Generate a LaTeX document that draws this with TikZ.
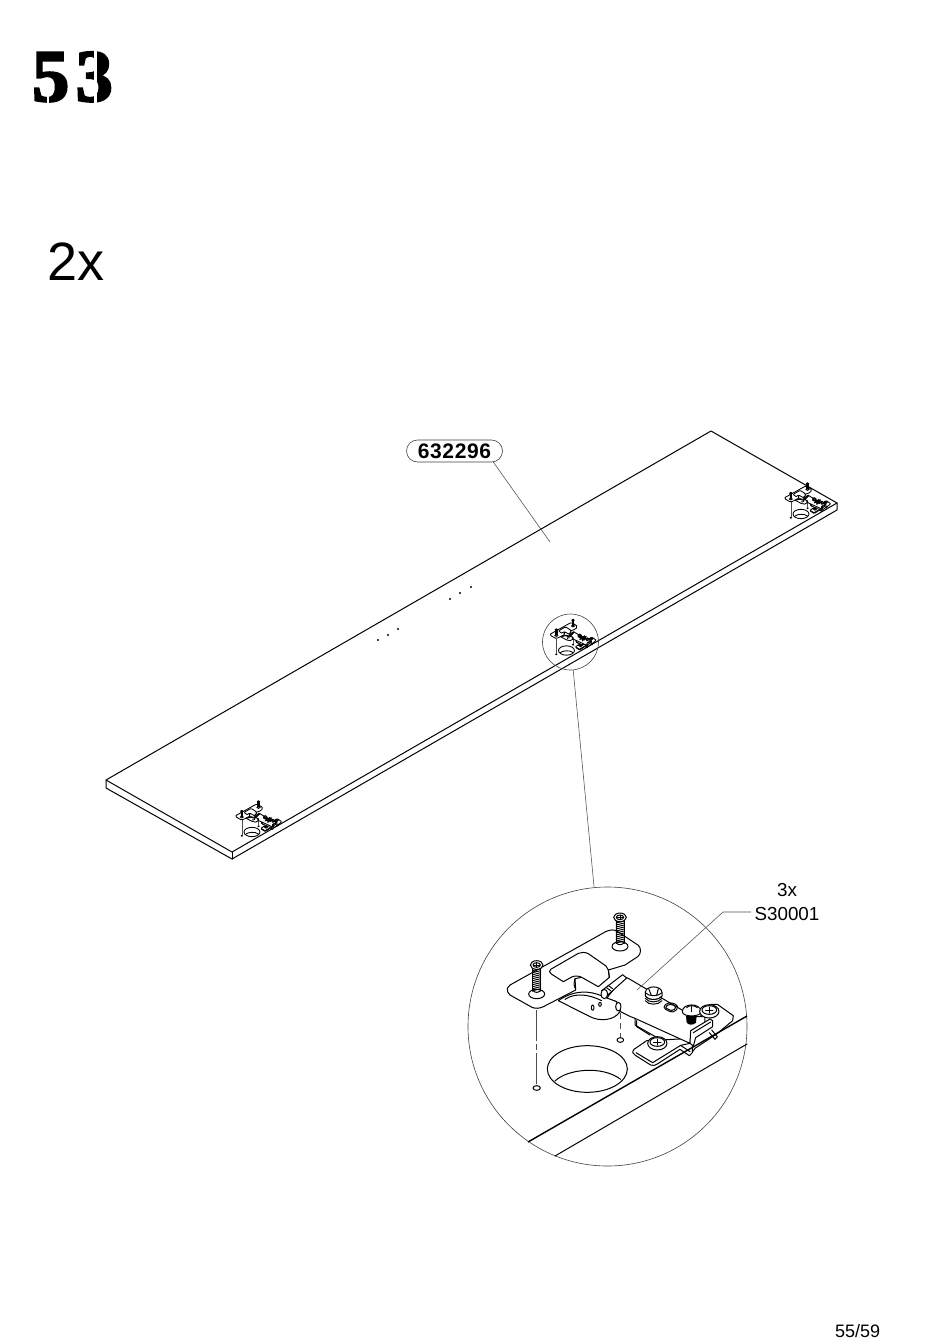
\documentclass[tikz,border=0pt]{standalone}
\usepackage{fontspec}
\setmainfont{Liberation Sans}
\newfontfamily\stepfont[LetterSpace=9,BoldFeatures={FakeBold=3}]{Liberation Serif}
\newfontfamily\partfont[LetterSpace=3]{Liberation Sans}
\usetikzlibrary{positioning,shapes.misc}

\tikzset{
  hline/.style={line width=1pt, line join=round, line cap=round},
  plate/.style={hline, fill=white},
  thinline/.style={line width=.55pt, draw=black!70},
  small/.style={scale=.2, hline/.style={line width=.85pt, line join=round}},
  lens/.style={circle, draw=black!75, line width=.6pt, inner sep=0},
  caption/.style={inner sep=0, anchor=base west},
  pill/.style={rounded rectangle, draw=black!75, line width=.6pt, minimum width=96pt, minimum height=22pt, inner sep=0},
  woodscrew/.pic={
    \foreach \yy in {8,14,...,74} \draw[hline] (-12,\yy+3) -- (12,\yy-3);
    \draw[hline] (-12,6) -- (-12,78); \draw[hline] (12,2) -- (12,78);
    \draw[plate] (0,0) ellipse [x radius=19, y radius=13];
    \draw[hline] (0,0) ellipse [x radius=11, y radius=7];
    \draw[hline] (-9,0) -- (9,0); \draw[hline] (0,-7) -- (0,7);
    \draw[hline] (0,87) ellipse [x radius=24, y radius=14];
    \draw[hline] (-12,76) .. controls (-6,84) and (6,84) .. (12,76);
  },
  panscrew/.pic={
    \draw[plate] (0,0) ellipse [x radius=29, y radius=20];
    \draw[hline] (0,-4) ellipse [x radius=22, y radius=13];
    \draw[hline] (-11,-4) -- (11,-4); \draw[hline] (0,-13) -- (0,5);
  },
  hingeset/.pic={
    \begin{scope}[x=.3333pt, y=-.3333pt, shift={(-442.5,-469.5)}]
      % hole and pilot holes
      \draw[hline] (382,597) ellipse [x radius=120, y radius=70];
      \draw[hline] (285,633) .. controls (320,598) and (425,585) .. (482,628);
      \draw[hline] (230,654) ellipse [x radius=11, y radius=7];
      \draw[hline] (481,510) ellipse [x radius=10, y radius=7];
      \draw[thinline, dash pattern=on 31pt off 3pt on 6pt off 3pt] (230,420) -- (230,645);
      \draw[thinline, dash pattern=on 6pt off 4pt] (481,430) -- (481,500);
      % right plate
      \draw[plate] (745,408) -- (755,403) -- (772,403) -- (820,437) -- (818,452) -- (770,492) -- (705,535) -- (690,555) -- (690,480) -- cycle;
      % lower tab
      \draw[plate] (560,512) -- (522,538) .. controls (516,546) and (518,552) .. (526,556) -- (572,585)
        .. controls (580,588) and (586,586) .. (592,582) -- (660,538) -- (688,557) -- (697,548) -- (697,505) -- cycle;
      \draw[hline] (528,548) -- (578,578) -- (662,526) -- (690,545);
      % arm
      \draw[plate] (490,320) -- (505,325) -- (700,440) -- (735,440) -- (735,470) -- (692,500) -- (690,520)
        -- (525,445) -- (512,440) -- (482,425) -- (470,395) -- (440,385) -- cycle;
      \draw[hline] (525,445) -- (525,465) -- (595,505);
      \draw[hline] (530,452) -- (530,470) -- (570,495);
      \draw[hline] (662,526) -- (690,520);
      % slot
      \draw[hline, rounded corners=4pt] (606,412) -- (628,395) -- (658,408) -- (640,430) -- cycle;
      \draw[hline, rounded corners=3pt] (613,412) -- (630,401) -- (651,410) -- (637,424) -- cycle;
      % body under top plate
      \draw[plate] (295,392) -- (390,440) .. controls (420,455) and (462,452) .. (480,425)
        -- (470,395) -- (430,380) .. controls (390,360) and (340,360) .. cycle;
      \draw[hline] (315,388) .. controls (345,368) and (385,372) .. (425,392);
      \draw[hline] (398,413) ellipse [x radius=4, y radius=8];
      \draw[hline] (420,403) ellipse [x radius=4, y radius=6];
      \draw[plate] (475,410) ellipse [x radius=8, y radius=13];
      % tongue
      \draw[plate] (425,362) -- (488,314) -- (500,324) -- (440,378) -- cycle;
      \draw[hline] (438,352) -- (452,362); \draw[hline] (444,346) -- (458,356);
      \draw[plate] (433,372) ellipse [x radius=10, y radius=14];
      % top plate
      \draw[plate] (142,355) -- (150,345) -- (435,186) .. controls (450,178) and (462,178) .. (472,184)
        -- (535,226) .. controls (544,234) and (544,252) .. (533,260) -- (495,285) -- (445,300)
        -- (448,322) -- (415,350) -- (365,322) -- (345,326) -- (347,360) -- (250,410)
        .. controls (238,416) and (226,416) .. (216,412) -- (150,375) .. controls (143,370) and (141,362) .. cycle;
      \draw[hline] (448,322) -- (445,300) -- (438,288) -- (385,251) .. controls (375,246) and (365,246) .. (355,250)
        -- (272,298) .. controls (266,302) and (268,308) .. (274,312) -- (310,335) -- (335,321) .. controls (340,318) and (355,316) .. (365,322);
      \draw[hline] (345,326) .. controls (342,340) and (340,348) .. (345,354);
      % screws
      \pic[transform shape] at (230,285) {woodscrew};
      \pic[transform shape] at (480,142) {woodscrew};
      % castle screw
      \foreach \yy in {378,385,392} \draw[hline] (556,\yy) .. controls (565,\yy+14) and (595,\yy+14) .. (606,\yy);
      \draw[plate] (556,368) -- (556,378) .. controls (565,392) and (595,392) .. (606,378) -- (606,368)
        .. controls (606,345) and (556,345) .. cycle;
      \draw[hline] (566,356) -- (574,376); \draw[hline] (595,356) -- (590,376);
      \draw[hline] (556,368) .. controls (565,380) and (595,380) .. (606,368);
      % middle screw
      \fill[black] (678,438) -- (710,438) -- (708,458) .. controls (700,466) and (686,466) .. (680,458) -- cycle;
      \draw[plate] (667,425) .. controls (667,398) and (723,398) .. (723,425) .. controls (723,442) and (667,442) .. cycle;
      \draw[hline] (680,413) .. controls (685,405) and (705,405) .. (712,413);
      \draw[hline] (695,408) -- (695,425);
      \pic[transform shape] at (592,520) {panscrew};
      \pic[transform shape] at (748,424) {panscrew};
      % clip
      \draw[plate] (692,482) -- (750,447) -- (758,452) -- (758,470) -- (707,503) -- (700,528) -- (690,520) -- cycle;
      \draw[hline] (700,488) -- (752,456);
      \draw[hline] (755,480) -- (772,500); \draw[hline] (748,488) -- (765,508);
      \draw[hline] (765,508) -- (772,500);
    \end{scope}
  }
}

\begin{document}
\begin{tikzpicture}[x=1pt, y=-1pt]
  \useasboundingbox (0,0) rectangle (950,1344);
  % headings
  \node[caption, font=\stepfont\bfseries\fontsize{74}{74}\selectfont] (stepno) at (32,101) {53};
  \node[caption, font=\fontsize{54}{54}\selectfont] (count) at (47,280) {2x};
  \node[caption, font=\fontsize{18}{18}\selectfont] (page) at (835,1337) {55/59};
  % stencil cuts
  \fill[white] (46.5,78) rectangle (48.5,104);
  \fill[white] (94,50) rectangle (96.5,104);
  % panel
  \draw[hline] (711,431) -- (837,503) -- (232,852) -- (106,780) -- cycle;
  \draw[hline] (106,780) -- (106,788) -- (232,859) -- (837,510) -- (837,503);
  \draw[hline] (232,852) -- (232,859);
  % dots
  \foreach \px/\py in {378/640, 388/635, 398/629, 450/599, 460/593, 471/587}
    \fill (\px,\py) circle (1.2);
  % hinges on the panel
  \pic[small] at (570.5,642) {hingeset};
  \pic[small] at (256,823.5) {hingeset};
  \pic[small] at (805,505.5) {hingeset};
  % detail
  \node[lens, minimum size=56pt] (lenssmall) at (570.5,642) {};
  \node[lens, minimum size=279pt] (lensbig) at (607.5,1026.5) {};
  \draw[thinline] (lenssmall) -- (lensbig);
  \pic at (607.5,1026.5) {hingeset};
  \coordinate (edgeA) at (528,1142);
  \coordinate (edgeB) at (747,1016);
  \coordinate (edgeC) at (555,1156);
  \coordinate (edgeD) at (747,1044);
  \draw[line width=1.4pt] (edgeA) -- (edgeB);
  \draw[hline] (edgeC) -- (edgeD);
  % part labels
  \node[pill, font=\partfont\bfseries\fontsize{21}{21}\selectfont] (partno) at (454.5,451) {632296};
  \coordinate (partend) at (550,542);
  \draw[thinline] (partno.-16) -- (partend);
  \node[inner sep=0, font=\fontsize{18.8}{18.8}\selectfont, align=center] (screwno) at (787,902) {3x\\[5pt]S30001};
  \coordinate (screwend) at (637,990);
  \coordinate (screwbend) at (723,912);
  \coordinate (screwstart) at (751,912);
  \draw[thinline] (screwstart) -- (screwbend) -- (screwend);
\end{tikzpicture}
\end{document}
